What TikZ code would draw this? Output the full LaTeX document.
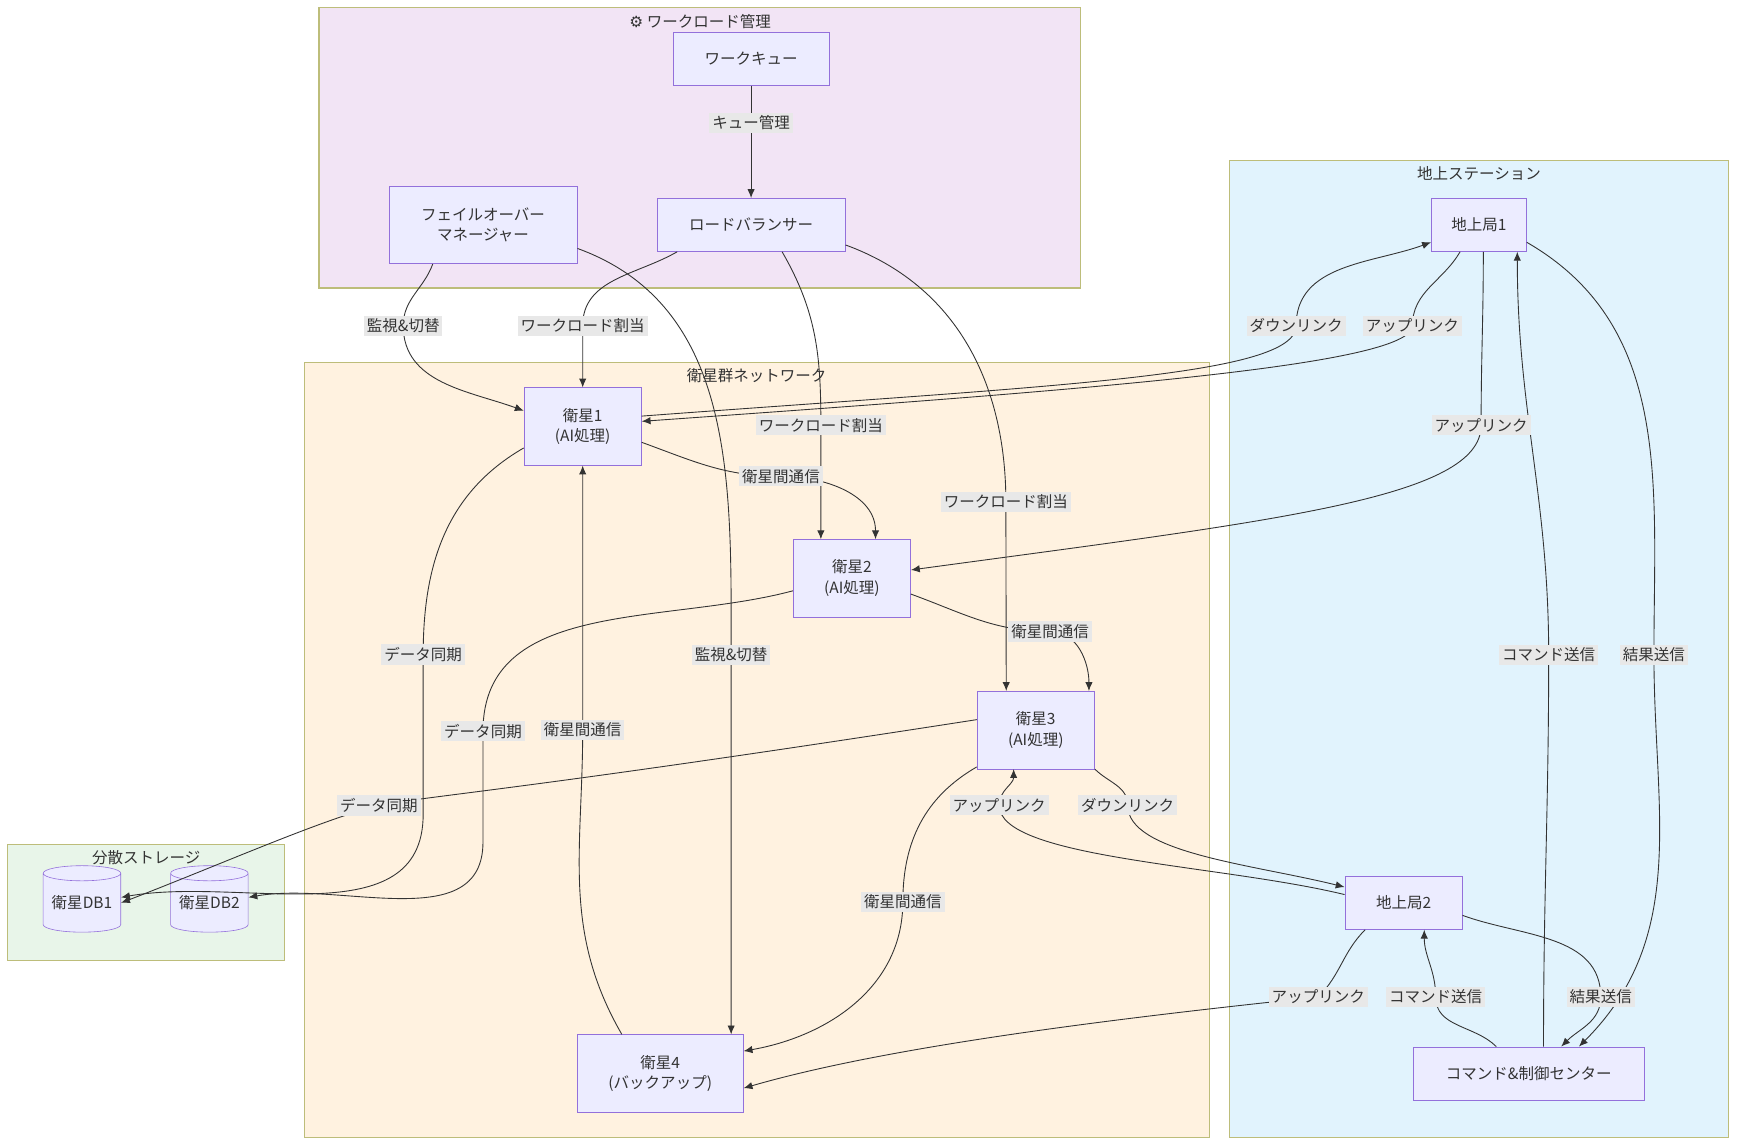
\documentclass[tikz,border=0pt]{standalone}
\usepackage{fontspec}
\setmainfont{Noto Sans CJK JP}
\newfontfamily\emo{DejaVu Sans}
\usetikzlibrary{shapes.geometric,arrows.meta}
\definecolor{nfill}{HTML}{ECECFF}
\definecolor{ndraw}{HTML}{9370DB}
\definecolor{cborder}{HTML}{BDBD7A}
\definecolor{labbg}{HTML}{E8E8E8}
\definecolor{ecol}{HTML}{333333}
\tikzset{
 x=0.75pt,y=0.75pt,
 every node/.style={font=\fontsize{10.5}{14}\selectfont,text=ecol},
 box/.style={draw=ndraw,fill=nfill,minimum width=#1*0.75pt,align=center,inner sep=0pt},
 db/.style={cylinder,shape border rotate=90,draw=ndraw,fill=nfill,minimum width=52.5pt,minimum height=45pt,aspect=0.25,inner sep=0pt},
 clu/.style={draw=cborder,line width=0.8pt},
 ctitle/.style={anchor=north},
 lab/.style={fill=labbg,inner sep=2pt},
 arr/.style={draw=ecol,line width=0.6pt,-{Latex[length=6pt,width=5pt]}},
}
\begin{document}
\begin{tikzpicture}
\useasboundingbox (0,0) rectangle (1568,-1036);
% clusters
\fill[white] (0,0) rectangle (1568,-1036);
\filldraw[clu,fill={rgb,255:red,242;green,228;blue,245}] (288,-7) rectangle (975,-260);
\node[ctitle] (t1) at (632,-8) {{\emo ⚙} ワークロード管理};
\filldraw[clu,fill={rgb,255:red,225;green,243;blue,253}] (1110,-145) rectangle (1560,-1027);
\node[ctitle] (t2) at (1335,-146) {地上ステーション};
\filldraw[clu,fill={rgb,255:red,255;green,242;blue,224}] (275,-327) rectangle (1092,-1027);
\node[ctitle] (t3) at (683,-328) {衛星群ネットワーク};
\filldraw[clu,fill={rgb,255:red,232;green,245;blue,233}] (7,-762) rectangle (257,-867);
\node[ctitle] (t4) at (132,-763) {分散ストレージ};
% nodes
\node[box=141,minimum height=36pt] (wq) at (678,-53) {ワークキュー};
\node[box=170,minimum height=36pt] (lb) at (678,-203) {ロードバランサー};
\node[box=170,minimum height=52.5pt] (fo) at (436,-203) {フェイルオーバー\\マネージャー};
\node[box=106,minimum height=52.5pt] (s1) at (526,-385) {衛星1\\(AI処理)};
\node[box=106,minimum height=52.5pt] (s2) at (769,-522) {衛星2\\(AI処理)};
\node[box=106,minimum height=52.5pt] (s3) at (935,-659) {衛星3\\(AI処理)};
\node[box=150,minimum height=52.5pt] (s4) at (596,-969) {衛星4\\(バックアップ)};
\node[box=86,minimum height=36pt] (g1) at (1335,-203) {地上局1};
\node[box=106,minimum height=36pt] (g2) at (1267,-815) {地上局2};
\node[box=208,minimum height=36pt] (cc) at (1380,-969) {コマンド\&制御センター};
\node[db] (db1) at (74,-815) {\raisebox{-6pt}{衛星DB1}};
\node[db] (db2) at (189,-815) {\raisebox{-6pt}{衛星DB2}};
% label coordinates
\coordinate (l1) at (678,-111);
\coordinate (l2) at (526,-294);
\coordinate (l3) at (741,-384);
\coordinate (l4) at (908,-453);
\coordinate (l5) at (364,-294);
\coordinate (l6) at (660,-591);
\coordinate (l7) at (705,-430);
\coordinate (l8) at (948,-570);
\coordinate (l9) at (815,-814);
\coordinate (l10) at (526,-659);
\coordinate (l11) at (382,-591);
\coordinate (l12) at (436,-660);
\coordinate (l13) at (342,-727);
\coordinate (l14) at (1170,-294);
\coordinate (l15) at (1275,-294);
\coordinate (l16) at (1337,-384);
\coordinate (l17) at (1398,-591);
\coordinate (l18) at (1493,-591);
\coordinate (l19) at (1018,-727);
\coordinate (l20) at (902,-727);
\coordinate (l21) at (1190,-900);
\coordinate (l22) at (1445,-900);
\coordinate (l23) at (1296,-900);
% edges
\draw[arr] (wq.south) -- (lb.north);
\draw[arr] (lb.200) to[out=210,in=90] (l2) -- (s1.north);
\draw[arr] ([xshift=21pt]lb.south) to[out=-60,in=90] (l3) -- ([xshift=-21pt]s2.north);
\draw[arr] (lb.-12) to[out=-20,in=90] (l4) -- ([xshift=-20pt]s3.north);
\draw[arr] ([xshift=-34pt]fo.south) to[out=-110,in=90] (l5) to[out=-90,in=160] (s1.165);
\draw[arr] (fo.-14) to[out=-20,in=90] (l6) -- ([xshift=48pt]s4.north);
\draw[arr] (s1.-15) to[out=-20,in=180] (l7) to[out=0,in=90] ([xshift=16pt]s2.north);
\draw[arr] (s2.-15) to[out=-20,in=180] (l8) to[out=0,in=90] ([xshift=36pt]s3.north);
\draw[arr] (s3.212) to[out=210,in=90] (l9) to[out=-90,in=10] (s4.15);
\draw[arr] ([xshift=-26pt]s4.north) to[out=120,in=-90] (l10) -- (s1.south);
\draw[arr] (s1.200) to[out=210,in=90] (l11) -- (382,-735) to[out=-90,in=10] (db1.8);
\draw[arr] (s2.192) to[out=195,in=90] (l12) -- (436,-760) to[out=-90,in=10] (db2.8);
\draw[arr] (s3.170) .. controls (480,-712) and (390,-718) .. (l13) .. controls (290,-740) and (200,-780) .. (db1.0);
\draw[arr] (s1.10) .. controls (950,-348) and (1170,-340) .. (l14) to[out=90,in=200] (g1.200);
\draw[arr] (g1.235) to[out=-120,in=90] (l15) .. controls (1275,-330) and (980,-352) .. (s1.5);
\draw[arr] ([xshift=3pt]g1.south) to[out=-90,in=90] (l16) .. controls (1337,-450) and (1150,-470) .. (s2.8);
\draw[arr] ([xshift=10pt]cc.north) to[out=90,in=-90] (l17) to[out=90,in=-90] ([xshift=26pt]g1.south);
\draw[arr] (g1.-20) to[out=-30,in=90] (l18) to[out=-90,in=45] ([xshift=34pt]cc.north);
\draw[arr] ([xshift=40pt]s3.south) to[out=-45,in=90] (l19) .. controls (1018,-770) and (1130,-780) .. (g2.165);
\draw[arr] (g2.172) .. controls (1100,-780) and (902,-775) .. (l20) to[out=90,in=-90] ([xshift=-15pt]s3.south);
\draw[arr] (g2.-145) to[out=-135,in=45] (l21) .. controls (1000,-920) and (800,-945) .. (s4.-10);
\draw[arr] (g2.-12) to[out=-20,in=90] (l22) to[out=-90,in=45] ([xshift=22pt]cc.north);
\draw[arr] ([xshift=-22pt]cc.north) to[out=135,in=-90] (l23) to[out=90,in=-90] ([xshift=14pt]g2.south);
% labels
\node[lab] (n1) at (l1) {キュー管理};
\node[lab] (n2) at (l2) {ワークロード割当};
\node[lab] (n3) at (l3) {ワークロード割当};
\node[lab] (n4) at (l4) {ワークロード割当};
\node[lab] (n5) at (l5) {監視\&切替};
\node[lab] (n6) at (l6) {監視\&切替};
\node[lab] (n7) at (l7) {衛星間通信};
\node[lab] (n8) at (l8) {衛星間通信};
\node[lab] (n9) at (l9) {衛星間通信};
\node[lab] (n10) at (l10) {衛星間通信};
\node[lab] (n11) at (l11) {データ同期};
\node[lab] (n12) at (l12) {データ同期};
\node[lab] (n13) at (l13) {データ同期};
\node[lab] (n14) at (l14) {ダウンリンク};
\node[lab] (n15) at (l15) {アップリンク};
\node[lab] (n16) at (l16) {アップリンク};
\node[lab] (n17) at (l17) {コマンド送信};
\node[lab] (n18) at (l18) {結果送信};
\node[lab] (n19) at (l19) {ダウンリンク};
\node[lab] (n20) at (l20) {アップリンク};
\node[lab] (n21) at (l21) {アップリンク};
\node[lab] (n22) at (l22) {結果送信};
\node[lab] (n23) at (l23) {コマンド送信};
\end{tikzpicture}
\end{document}
